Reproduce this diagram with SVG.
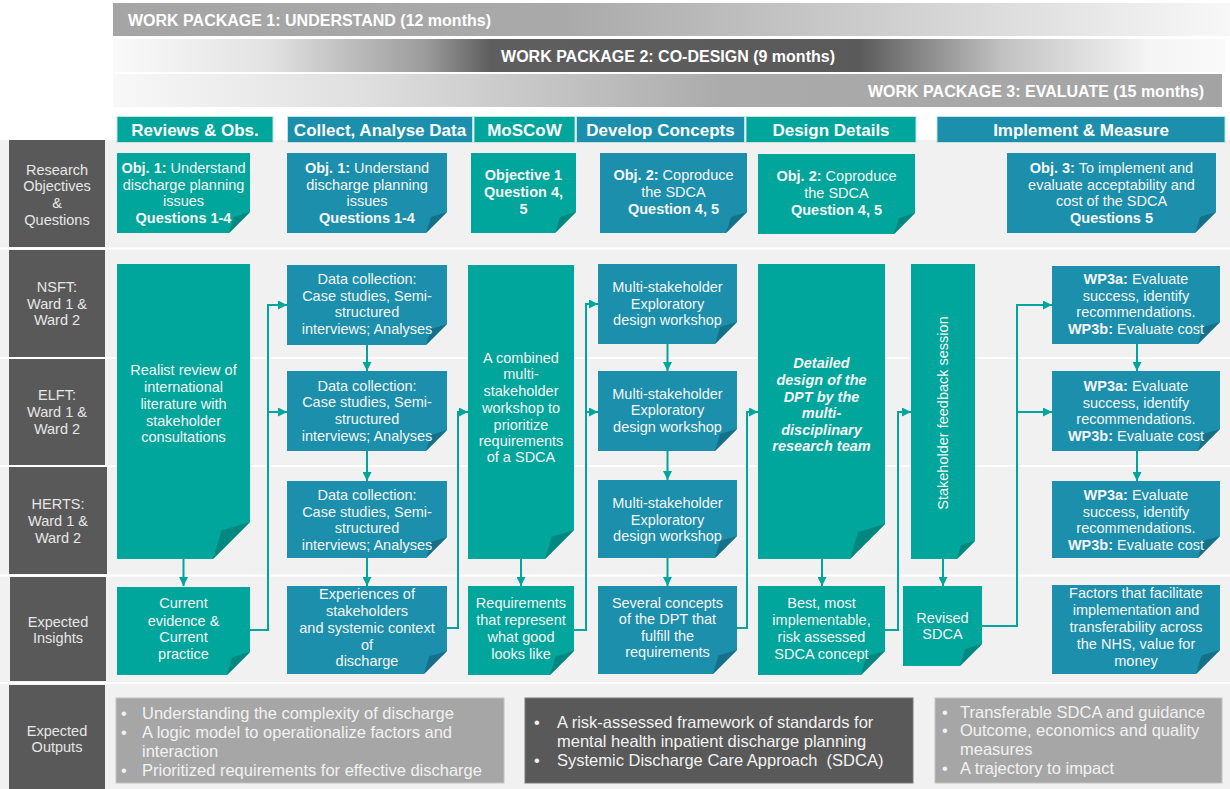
<svg xmlns="http://www.w3.org/2000/svg" width="1230" height="789" viewBox="0 0 1230 789">
<defs>
<linearGradient id="g1" x1="0" y1="0" x2="1" y2="0"><stop offset="0" stop-color="#a5a5a5"/><stop offset="0.4" stop-color="#a9a9a9"/><stop offset="0.75" stop-color="#d6d6d6"/><stop offset="1" stop-color="#f8f8f8"/></linearGradient>
<linearGradient id="g2" x1="0" y1="0" x2="1" y2="0"><stop offset="0" stop-color="#fafafa"/><stop offset="0.14" stop-color="#e2e2e2"/><stop offset="0.28" stop-color="#9c9c9c"/><stop offset="0.34" stop-color="#5e5e5e"/><stop offset="0.67" stop-color="#5a5a5a"/><stop offset="0.8" stop-color="#c2c2c2"/><stop offset="0.93" stop-color="#f4f4f4"/><stop offset="1" stop-color="#fafafa"/></linearGradient>
<linearGradient id="g3" x1="0" y1="0" x2="1" y2="0"><stop offset="0" stop-color="#f8f8f8"/><stop offset="0.22" stop-color="#e0e0e0"/><stop offset="0.55" stop-color="#ababab"/><stop offset="1" stop-color="#a3a3a3"/></linearGradient>
<marker id="ah" viewBox="0 0 10 10" refX="10" refY="5" markerWidth="4.5" markerHeight="4.5" orient="auto" markerUnits="strokeWidth"><path d="M0,0 L10,5 L0,10 z" fill="#00a59b"/></marker>
<style>
text{font-family:"Liberation Sans",Arial,sans-serif;}
.wp{font-size:16px;font-weight:bold;fill:#ffffff;}
.hd{font-size:17px;font-weight:bold;fill:#ffffff;text-anchor:middle;}
.lb{font-size:14.5px;fill:#e6e6e6;text-anchor:middle;}
.tx{font-size:14.5px;fill:#f6f6f6;text-anchor:middle;}
.bi{font-weight:bold;font-style:italic;}
.b{font-weight:bold;}
.ot{font-size:16.5px;fill:#f2f2f2;}
.T{fill:#00a59b;}
.Tf{fill:#00877f;}
.B{fill:#1b8fab;}
.Bf{fill:#15718a;}
.lab{fill:#595959;}
.cn{fill:none;stroke:#00a59b;stroke-width:2;}
.ca{fill:none;stroke:#00a59b;stroke-width:2;marker-end:url(#ah);}
</style>
</defs>
<rect x="0" y="0" width="1230" height="789" fill="#ffffff"/>
<rect x="0" y="140" width="1230" height="649" fill="#f1f1f1"/>
<g id="separators" stroke="#ffffff" stroke-width="2">
<line x1="0" y1="248.5" x2="1230" y2="248.5"/>
<line x1="0" y1="358" x2="1230" y2="358"/>
<line x1="0" y1="466" x2="1230" y2="466"/>
<line x1="0" y1="575.5" x2="1230" y2="575.5"/>
<line x1="0" y1="683" x2="1230" y2="683"/>
</g>

<g id="wp1"><rect x="113" y="3" width="1117" height="33" fill="url(#g1)"/><text class="wp" x="128" y="26">WORK PACKAGE 1: UNDERSTAND (12 months)</text></g>
<g id="wp2"><rect x="113" y="39" width="1112" height="33" fill="url(#g2)"/><text class="wp" x="668" y="62" text-anchor="middle">WORK PACKAGE 2: CO-DESIGN (9 months)</text></g>
<g id="wp3"><rect x="113" y="74" width="1109" height="33" fill="url(#g3)"/><text class="wp" x="1204" y="97" text-anchor="end">WORK PACKAGE 3: EVALUATE (15 months)</text></g>

<g id="phase-headers" stroke="#bfe3e0" stroke-width="1">
<rect x="117" y="116.5" width="156" height="26" class="T"/>
<rect x="287.5" y="116.5" width="185" height="26" class="B"/>
<rect x="474" y="116.5" width="101" height="26" class="T"/>
<rect x="576.5" y="116.5" width="168" height="26" class="B"/>
<rect x="746" y="116.5" width="170" height="26" class="T"/>
<rect x="937" y="116.5" width="288" height="26" class="B"/>
</g>
<g id="phase-header-text">
<text class="hd" x="195" y="136">Reviews &amp; Obs.</text>
<text class="hd" x="380" y="136">Collect, Analyse Data</text>
<text class="hd" x="524.5" y="136">MoSCoW</text>
<text class="hd" x="660.5" y="136">Develop Concepts</text>
<text class="hd" x="831" y="136">Design Details</text>
<text class="hd" x="1081" y="136">Implement &amp; Measure</text>
</g>

<g id="row-labels">
<rect class="lab" x="9" y="140" width="96" height="107"/>
<text class="lb" x="57" y="175">Research</text><text class="lb" x="57" y="191">Objectives</text><text class="lb" x="57" y="208">&amp;</text><text class="lb" x="57" y="225">Questions</text>
<rect class="lab" x="9" y="250" width="96" height="107"/>
<text class="lb" x="57" y="292">NSFT:</text><text class="lb" x="57" y="309">Ward 1 &amp;</text><text class="lb" x="57" y="325">Ward 2</text>
<rect class="lab" x="9" y="359" width="96" height="106"/>
<text class="lb" x="57" y="400">ELFT:</text><text class="lb" x="57" y="417">Ward 1 &amp;</text><text class="lb" x="57" y="434">Ward 2</text>
<rect class="lab" x="9" y="467" width="98" height="107"/>
<text class="lb" x="58" y="509">HERTS:</text><text class="lb" x="58" y="526">Ward 1 &amp;</text><text class="lb" x="58" y="543">Ward 2</text>
<rect class="lab" x="10" y="577" width="96" height="104"/>
<text class="lb" x="58" y="627">Expected</text><text class="lb" x="58" y="643">Insights</text>
<rect class="lab" x="9" y="685" width="96" height="104"/>
<text class="lb" x="57" y="736">Expected</text><text class="lb" x="57" y="752">Outputs</text>
</g>

<!-- Objectives -->
<g id="obj1"><path class="T" d="M117,153 H250 V212 L229,233 H117 Z"/><path class="Tf" d="M229,233 L234,217 L250,212 Z"/>
<text class="tx" x="183.5" y="173"><tspan class="b">Obj. 1:</tspan> Understand</text><text class="tx" x="183.5" y="189.5">discharge planning</text><text class="tx" x="183.5" y="206">issues</text><text class="tx b" x="183.5" y="222.5">Questions 1-4</text></g>
<g id="obj2"><path class="B" d="M287,153 H447 V212 L426,233 H287 Z"/><path class="Bf" d="M426,233 L431,217 L447,212 Z"/>
<text class="tx" x="367" y="173"><tspan class="b">Obj. 1:</tspan> Understand</text><text class="tx" x="367" y="189.5">discharge planning</text><text class="tx" x="367" y="206">issues</text><text class="tx b" x="367" y="222.5">Questions 1-4</text></g>
<g id="obj3"><path class="T" d="M471,153 H576 V212 L555,233 H471 Z"/><path class="Tf" d="M555,233 L560,217 L576,212 Z"/>
<text class="tx b" x="523.5" y="180">Objective 1</text><text class="tx b" x="523.5" y="197">Question 4,</text><text class="tx b" x="523.5" y="214">5</text></g>
<g id="obj4"><path class="B" d="M600,153 H747 V212 L726,233 H600 Z"/><path class="Bf" d="M726,233 L731,217 L747,212 Z"/>
<text class="tx" x="673.5" y="180"><tspan class="b">Obj. 2:</tspan> Coproduce</text><text class="tx" x="673.5" y="197">the SDCA</text><text class="tx b" x="673.5" y="214">Question 4, 5</text></g>
<g id="obj5"><path class="T" d="M758,154 H915 V213 L894,234 H758 Z"/><path class="Tf" d="M894,234 L899,218 L915,213 Z"/>
<text class="tx" x="836.5" y="181"><tspan class="b">Obj. 2:</tspan> Coproduce</text><text class="tx" x="836.5" y="198">the SDCA</text><text class="tx b" x="836.5" y="215">Question 4, 5</text></g>
<g id="obj6"><path class="B" d="M1007,153 H1216 V212 L1195,233 H1007 Z"/><path class="Bf" d="M1195,233 L1200,217 L1216,212 Z"/>
<text class="tx" x="1111.5" y="173"><tspan class="b">Obj. 3:</tspan> To implement and</text><text class="tx" x="1111.5" y="189.5">evaluate acceptability and</text><text class="tx" x="1111.5" y="206">cost of the SDCA</text><text class="tx b" x="1111.5" y="222.5">Questions 5</text></g>

<!-- Reviews column -->
<g id="realist"><path class="T" d="M117,264 H250 V522 L213,559 H117 Z"/><path class="Tf" d="M213,559 L221.5,530.5 L250,522 Z"/>
<text class="tx" x="183.5" y="375">Realist review of</text><text class="tx" x="183.5" y="392">international</text><text class="tx" x="183.5" y="409">literature with</text><text class="tx" x="183.5" y="426">stakeholder</text><text class="tx" x="183.5" y="442">consultations</text></g>
<g id="current"><path class="T" d="M117,587 H250 V652 L227,675 H117 Z"/><path class="Tf" d="M227,675 L232.3,657.3 L250,652 Z"/>
<text class="tx" x="183.5" y="608">Current</text><text class="tx" x="183.5" y="626">evidence &amp;</text><text class="tx" x="183.5" y="642">Current</text><text class="tx" x="183.5" y="659">practice</text></g>

<!-- Collect column -->
<g id="dc1"><path class="B" d="M287,265 H447 V324 L426,345 H287 Z"/><path class="Bf" d="M426,345 L431,329 L447,324 Z"/>
<text class="tx" x="367" y="284">Data collection:</text><text class="tx" x="367" y="301">Case studies, Semi-</text><text class="tx" x="367" y="317">structured</text><text class="tx" x="367" y="334">interviews; Analyses</text></g>
<g id="dc2"><path class="B" d="M287,371 H447 V430 L426,451 H287 Z"/><path class="Bf" d="M426,451 L431,435 L447,430 Z"/>
<text class="tx" x="367" y="391">Data collection:</text><text class="tx" x="367" y="407">Case studies, Semi-</text><text class="tx" x="367" y="424">structured</text><text class="tx" x="367" y="441">interviews; Analyses</text></g>
<g id="dc3"><path class="B" d="M287,481 H447 V537 L426,558 H287 Z"/><path class="Bf" d="M426,558 L431,542 L447,537 Z"/>
<text class="tx" x="367" y="500">Data collection:</text><text class="tx" x="367" y="517">Case studies, Semi-</text><text class="tx" x="367" y="533">structured</text><text class="tx" x="367" y="550">interviews; Analyses</text></g>
<g id="experiences"><path class="B" d="M287,586 H447 V651 L424,674 H287 Z"/><path class="Bf" d="M424,674 L429.3,656.3 L447,651 Z"/>
<text class="tx" x="367" y="599">Experiences of</text><text class="tx" x="367" y="616">stakeholders</text><text class="tx" x="367" y="633">and systemic context</text><text class="tx" x="367" y="650">of</text><text class="tx" x="367" y="666">discharge</text></g>

<!-- MoSCoW column -->
<g id="combined"><path class="T" d="M468,265 H574 V530 L545,559 H468 Z"/><path class="Tf" d="M545,559 L551.7,536.7 L574,530 Z"/>
<text class="tx" x="521" y="363">A combined</text><text class="tx" x="521" y="379">multi-</text><text class="tx" x="521" y="396">stakeholder</text><text class="tx" x="521" y="413">workshop to</text><text class="tx" x="521" y="430">prioritize</text><text class="tx" x="521" y="446">requirements</text><text class="tx" x="521" y="462">of a SDCA</text></g>
<g id="requirements"><path class="T" d="M468,586 H574 V651 L550,675 H468 Z"/><path class="Tf" d="M550,675 L555.5,656.5 L574,651 Z"/>
<text class="tx" x="521" y="608">Requirements</text><text class="tx" x="521" y="625">that represent</text><text class="tx" x="521" y="642">what good</text><text class="tx" x="521" y="659">looks like</text></g>

<!-- Develop column -->
<g id="multi1"><path class="B" d="M598,264 H737 V322 L715,344 H598 Z"/><path class="Bf" d="M715,344 L720,327 L737,322 Z"/>
<text class="tx" x="667.5" y="292">Multi-stakeholder</text><text class="tx" x="667.5" y="309">Exploratory</text><text class="tx" x="667.5" y="325">design workshop</text></g>
<g id="multi2"><path class="B" d="M598,371 H737 V429 L715,451 H598 Z"/><path class="Bf" d="M715,451 L720,434 L737,429 Z"/>
<text class="tx" x="667.5" y="399">Multi-stakeholder</text><text class="tx" x="667.5" y="415">Exploratory</text><text class="tx" x="667.5" y="432">design workshop</text></g>
<g id="multi3"><path class="B" d="M598,480 H737 V536 L715,558 H598 Z"/><path class="Bf" d="M715,558 L720,541 L737,536 Z"/>
<text class="tx" x="667.5" y="508">Multi-stakeholder</text><text class="tx" x="667.5" y="525">Exploratory</text><text class="tx" x="667.5" y="541">design workshop</text></g>
<g id="several"><path class="B" d="M598,586 H737 V650 L713,674 H598 Z"/><path class="Bf" d="M713,674 L718.5,655.5 L737,650 Z"/>
<text class="tx" x="667.5" y="608">Several concepts</text><text class="tx" x="667.5" y="624">of the DPT that</text><text class="tx" x="667.5" y="641">fulfill the</text><text class="tx" x="667.5" y="657">requirements</text></g>

<!-- Design column -->
<g id="detailed"><path class="T" d="M758,264 H885 V524 L850,559 H758 Z"/><path class="Tf" d="M850,559 L858,532 L885,524 Z"/>
<text class="tx bi" x="821.5" y="368">Detailed</text><text class="tx bi" x="821.5" y="385">design of the</text><text class="tx bi" x="821.5" y="402">DPT by the</text><text class="tx bi" x="821.5" y="418">multi-</text><text class="tx bi" x="821.5" y="435">disciplinary</text><text class="tx bi" x="821.5" y="451">research team</text></g>
<g id="best"><path class="T" d="M758,586 H885 V651 L861,675 H758 Z"/><path class="Tf" d="M861,675 L866.5,656.5 L885,651 Z"/>
<text class="tx" x="821.5" y="608">Best, most</text><text class="tx" x="821.5" y="625">implementable,</text><text class="tx" x="821.5" y="642">risk assessed</text><text class="tx" x="821.5" y="659">SDCA concept</text></g>

<!-- Feedback column -->
<g id="feedback"><path class="T" d="M911,264 H975 V541 L957,559 H911 Z"/><path class="Tf" d="M957,559 L961,545 L975,541 Z"/>
<text class="tx" transform="translate(948,413) rotate(-90)" x="0" y="0">Stakeholder feedback session</text></g>
<g id="revised"><path class="T" d="M903,586 H982 V644 L960,666 H903 Z"/><path class="Tf" d="M960,666 L965,649 L982,644 Z"/>
<text class="tx" x="942.5" y="623">Revised</text><text class="tx" x="942.5" y="639">SDCA</text></g>

<!-- Implement column -->
<g id="wp3a1"><path class="B" d="M1052,266 H1220 V322 L1198,344 H1052 Z"/><path class="Bf" d="M1198,344 L1203,327 L1220,322 Z"/>
<text class="tx" x="1136" y="284"><tspan class="b">WP3a:</tspan> Evaluate</text><text class="tx" x="1136" y="301">success, identify</text><text class="tx" x="1136" y="317">recommendations.</text><text class="tx" x="1136" y="334"><tspan class="b">WP3b:</tspan> Evaluate cost</text></g>
<g id="wp3a2"><path class="B" d="M1052,371 H1220 V429 L1198,451 H1052 Z"/><path class="Bf" d="M1198,451 L1203,434 L1220,429 Z"/>
<text class="tx" x="1136" y="391"><tspan class="b">WP3a:</tspan> Evaluate</text><text class="tx" x="1136" y="408">success, identify</text><text class="tx" x="1136" y="424">recommendations.</text><text class="tx" x="1136" y="441"><tspan class="b">WP3b:</tspan> Evaluate cost</text></g>
<g id="wp3a3"><path class="B" d="M1052,481 H1220 V536 L1198,558 H1052 Z"/><path class="Bf" d="M1198,558 L1203,541 L1220,536 Z"/>
<text class="tx" x="1136" y="500"><tspan class="b">WP3a:</tspan> Evaluate</text><text class="tx" x="1136" y="517">success, identify</text><text class="tx" x="1136" y="533">recommendations.</text><text class="tx" x="1136" y="550"><tspan class="b">WP3b:</tspan> Evaluate cost</text></g>
<g id="factors"><path class="B" d="M1052,585 H1220 V650 L1196,674 H1052 Z"/><path class="Bf" d="M1196,674 L1201.5,655.5 L1220,650 Z"/>
<text class="tx" x="1136" y="598">Factors that facilitate</text><text class="tx" x="1136" y="615">implementation and</text><text class="tx" x="1136" y="632">transferability across</text><text class="tx" x="1136" y="649">the NHS, value for</text><text class="tx" x="1136" y="666">money</text></g>

<!-- Connectors -->
<g id="connectors">
<path class="ca" d="M183.5,559 V586"/>
<path class="cn" d="M250,630 H268 V305"/>
<path class="ca" d="M267,305 H287"/>
<path class="ca" d="M268,412 H287"/>
<path class="ca" d="M367,345 V371"/>
<path class="ca" d="M367,451 V481"/>
<path class="ca" d="M367,558 V586"/>
<path class="cn" d="M447,628 H458 V412"/>
<path class="ca" d="M457,412 H468"/>
<path class="ca" d="M521,559 V586"/>
<path class="cn" d="M574,630 H586 V304"/>
<path class="ca" d="M585,304 H598"/>
<path class="ca" d="M586,412 H598"/>
<path class="ca" d="M667.5,344 V371"/>
<path class="ca" d="M667.5,451 V480"/>
<path class="ca" d="M667.5,558 V586"/>
<path class="cn" d="M737,628 H747 V412"/>
<path class="ca" d="M746,412 H758"/>
<path class="ca" d="M822,559 V586"/>
<path class="cn" d="M885,630 H898 V412"/>
<path class="ca" d="M897,412 H911"/>
<path class="ca" d="M943,559 V586"/>
<path class="cn" d="M982,626 H1017 V305"/>
<path class="ca" d="M1016,305 H1052"/>
<path class="ca" d="M1017,412 H1052"/>
<path class="ca" d="M1137,344 V371"/>
<path class="ca" d="M1137,451 V481"/>
</g>

<!-- Outputs -->
<g id="out1"><rect x="116" y="698" width="388" height="85" fill="#a6a6a6" stroke="#c4c4c4" stroke-width="1"/>
<text class="ot" x="121" y="719">•</text><text class="ot" x="142" y="719">Understanding the complexity of discharge</text>
<text class="ot" x="121" y="738">•</text><text class="ot" x="142" y="738">A logic model to operationalize factors and</text>
<text class="ot" x="142" y="757">interaction</text>
<text class="ot" x="121" y="776">•</text><text class="ot" x="142" y="776">Prioritized requirements for effective discharge</text></g>
<g id="out2"><rect x="525" y="698" width="388" height="85" fill="#595959" stroke="#7a7a7a" stroke-width="1"/>
<text class="ot" x="534" y="728">•</text><text class="ot" x="557" y="728">A risk-assessed framework of standards for</text>
<text class="ot" x="557" y="747">mental health inpatient discharge planning</text>
<text class="ot" x="534" y="766">•</text><text class="ot" x="557" y="766">Systemic Discharge Care Approach&#160; (SDCA)</text></g>
<g id="out3"><rect x="935" y="698" width="287" height="85" fill="#a6a6a6" stroke="#c4c4c4" stroke-width="1"/>
<text class="ot" x="942" y="718">•</text><text class="ot" x="960" y="718">Transferable SDCA and guidance</text>
<text class="ot" x="942" y="736">•</text><text class="ot" x="960" y="736">Outcome, economics and quality</text>
<text class="ot" x="960" y="755">measures</text>
<text class="ot" x="942" y="774">•</text><text class="ot" x="960" y="774">A trajectory to impact</text></g>
</svg>
